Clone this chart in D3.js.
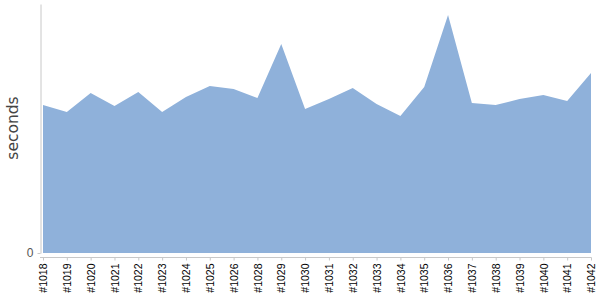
<!DOCTYPE html>
<html>
<head>
<meta charset="utf-8">
<script src="https://cdn.jsdelivr.net/npm/d3@7"></script>
<style>
  body { margin: 0; background: #fff; }
  svg { font-family: "DejaVu Sans", sans-serif; }
</style>
</head>
<body>
<svg id="chart"></svg>
<script>
// build durations
const builds = ["#1018", "#1019", "#1020", "#1021", "#1022", "#1023", "#1024", "#1025",
  "#1026", "#1028", "#1029", "#1030", "#1031", "#1032", "#1033", "#1034", "#1035",
  "#1036", "#1037", "#1038", "#1039", "#1040", "#1041", "#1042"];
const seconds = [296, 282, 320, 294, 322, 282, 312, 334, 328, 310, 418, 288, 308,
  330, 298, 274, 332, 476, 300, 296, 308, 316, 304, 360];
const yMax = 498;
const yTicks = [0];

const width = 600;
const height = 300;

const svg = d3.select("#chart")
  .attr("width", width)
  .attr("height", height);

const x = d3.scalePoint()
  .domain(builds)
  .range([43, 591]);

const y = d3.scaleLinear()
  .domain([0, yMax])
  .range([253, 4]);

const data = builds.map((b, i) => ({ build: b, value: seconds[i] }));

const area = d3.area()
  .x(d => x(d.build))
  .y0(y(0))
  .y1(d => y(d.value));

svg.append("path")
  .datum(data)
  .attr("d", area)
  .attr("fill", "#8fb1da");

// x axis
const xAxis = svg.append("g")
  .attr("transform", "translate(0,257.5)")
  .call(d3.axisBottom(x).tickSize(3).tickSizeOuter(0));

xAxis.select(".domain").remove();
xAxis.append("line")
  .attr("x1", 40).attr("x2", 591.5)
  .attr("y1", 0).attr("y2", 0)
  .attr("stroke", "#c8c8c8");
xAxis.selectAll(".tick line").attr("stroke", "#c8c8c8");
xAxis.selectAll(".tick text")
  .attr("transform", "rotate(-90)")
  .attr("x", -6)
  .attr("y", 0)
  .attr("dy", "0.35em")
  .attr("text-anchor", "end")
  .attr("font-size", 10.5)
  .attr("fill", "#000");

// y axis
const yAxis = svg.append("g")
  .attr("transform", "translate(40.5,0)")
  .call(d3.axisLeft(y).tickValues(yTicks).tickSize(3).tickSizeOuter(0));

yAxis.select(".domain").attr("stroke", "#c8c8c8");
yAxis.selectAll(".tick line").attr("stroke", "#c8c8c8");
yAxis.selectAll(".tick text")
  .attr("x", -7)
  .attr("font-size", 12)
  .attr("fill", "#555");

svg.append("text")
  .attr("transform", "rotate(-90)")
  .attr("x", -128)
  .attr("y", 18)
  .attr("text-anchor", "middle")
  .attr("font-size", 15.5)
  .attr("fill", "#444")
  .text("seconds");
</script>
</body>
</html>
